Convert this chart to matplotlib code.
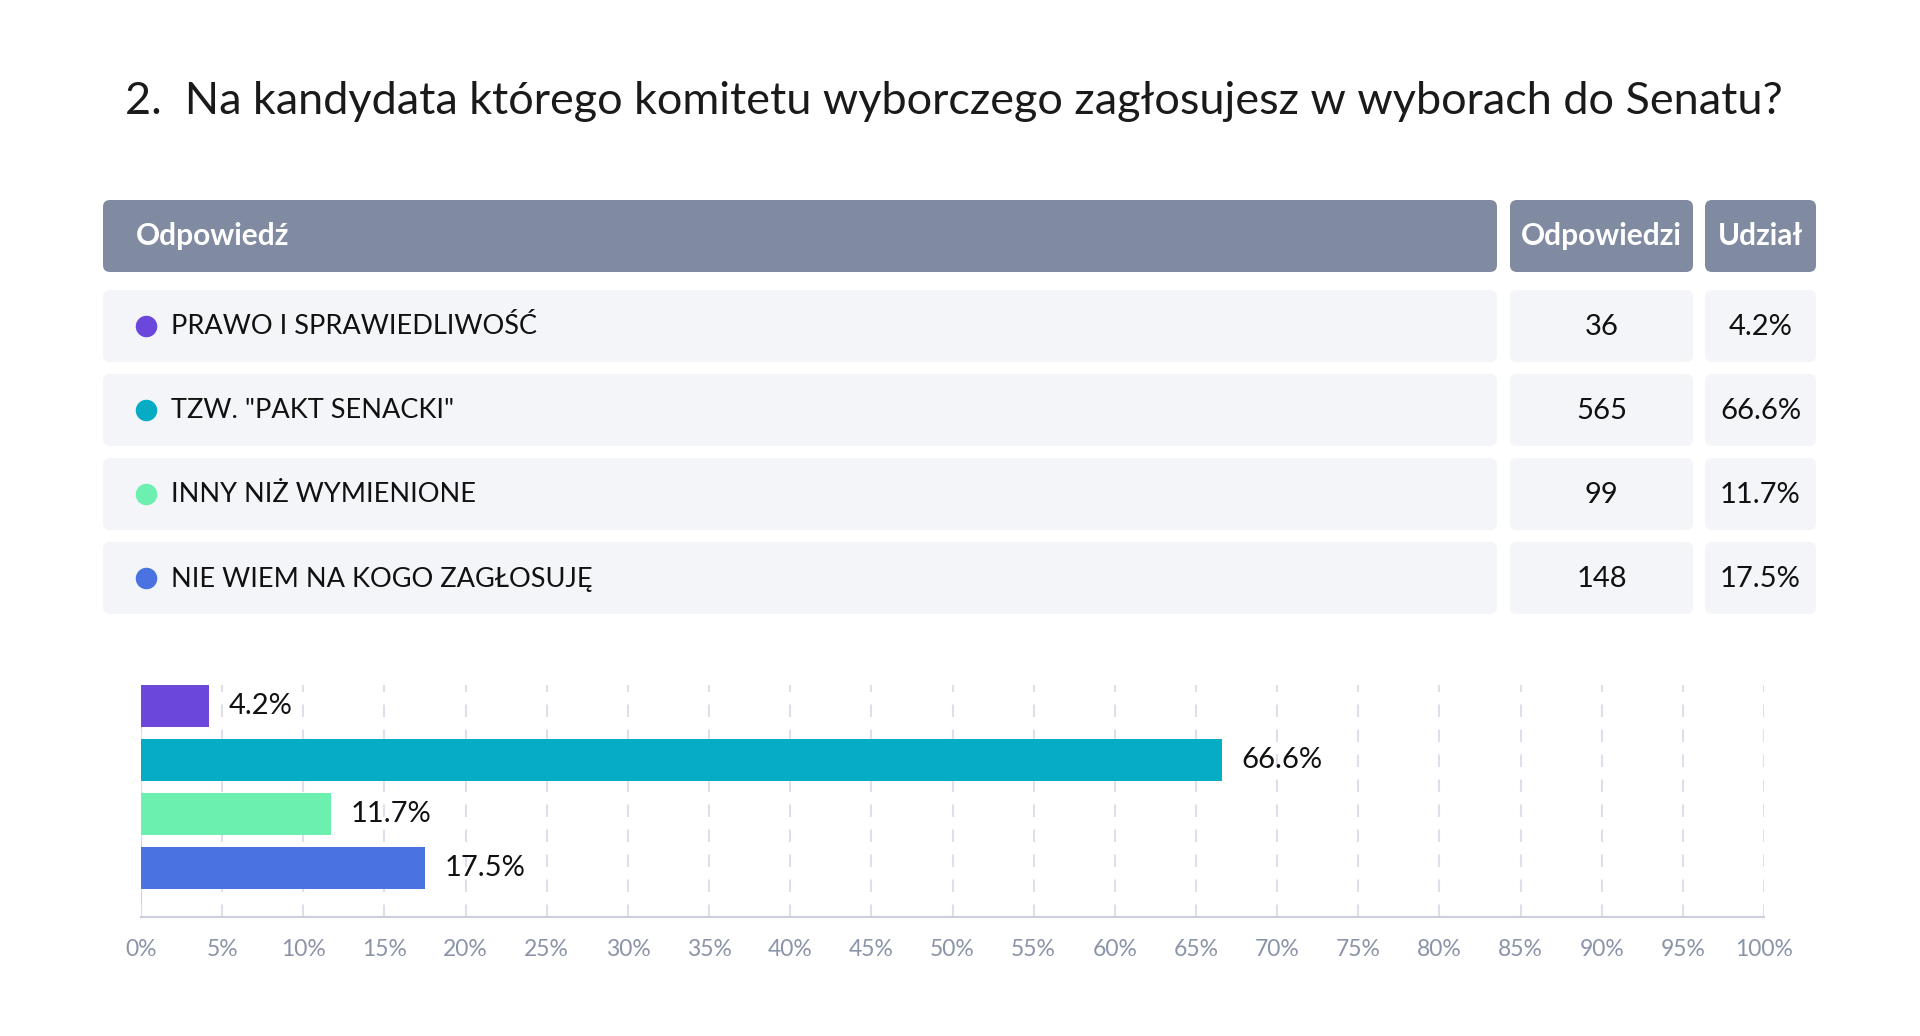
import matplotlib
matplotlib.use("Agg")
import matplotlib.pyplot as plt
from matplotlib.patches import FancyBboxPatch
from matplotlib.ticker import FixedLocator

plt.rcParams['font.family'] = ['Lato', 'DejaVu Sans']

title = "2.  Na kandydata którego komitetu wyborczego zagłosujesz w wyborach do Senatu?"
headers = ["Odpowiedź", "Odpowiedzi", "Udział"]
categories = ["PRAWO I SPRAWIEDLIWOŚĆ", 'TZW. "PAKT SENACKI"', "INNY NIŻ WYMIENIONE", "NIE WIEM NA KOGO ZAGŁOSUJĘ"]
counts = [36, 565, 99, 148]
shares = [4.2, 66.6, 11.7, 17.5]
colors = ["#6c47dc", "#06abc4", "#6cf0b0", "#4a72e0"]
ticks = list(range(0, 101, 5))

W, H = 1920, 1036
fig = plt.figure(figsize=(W / 100, H / 100), dpi=100)
fig.patch.set_facecolor("white")

# overlay axes in pixel coords
ov = fig.add_axes([0, 0, 1, 1])
ov.set_xlim(0, W)
ov.set_ylim(H, 0)
ov.axis("off")

ov.text(125, 102, title, fontsize=32.4, color="#1a1a1a", va="center", ha="left")

header_col = "#808aa0"
row_col = "#f4f5f9"
cols = [(103, 1497), (1510, 1693), (1705, 1816)]


def rbox(x0, x1, y0, y1, color):
    p = FancyBboxPatch((x0, y0), x1 - x0, y1 - y0,
                       boxstyle="round,pad=0,rounding_size=7",
                       facecolor=color, edgecolor="none", mutation_aspect=1)
    ov.add_patch(p)


# header
hy0, hy1 = 200, 272
for (x0, x1) in cols:
    rbox(x0, x1, hy0, hy1, header_col)
hyc = (hy0 + hy1) / 2
ov.text(136, hyc, headers[0], fontsize=21.5, fontweight="bold", color="white", va="center", ha="left")
ov.text((cols[1][0] + cols[1][1]) / 2, hyc, headers[1], fontsize=21.5, fontweight="bold", color="white", va="center", ha="center")
ov.text((cols[2][0] + cols[2][1]) / 2, hyc, headers[2], fontsize=21.5, fontweight="bold", color="white", va="center", ha="center")

# rows
for i, (cat, n, s, c) in enumerate(zip(categories, counts, shares, colors)):
    y0 = 290 + i * 84
    y1 = y0 + 72
    yc = (y0 + y1) / 2
    for (x0, x1) in cols:
        rbox(x0, x1, y0, y1, row_col)
    ov.scatter([146], [yc], s=210, color=c, zorder=3)
    ov.text(171, yc + 1, cat, fontsize=19.5, color="#111111", va="center", ha="left")
    ov.text((cols[1][0] + cols[1][1]) / 2, yc + 1, str(n), fontsize=21, color="#111111", va="center", ha="center")
    ov.text((cols[2][0] + cols[2][1]) / 2, yc + 1, f"{s}%", fontsize=21, color="#111111", va="center", ha="center")

# bar chart
ax_l, ax_r, ax_t, ax_b = 141, 1764, 685, 917
ax = fig.add_axes([ax_l / W, (H - ax_b) / H, (ax_r - ax_l) / W, (ax_b - ax_t) / H])
ypos = list(range(len(shares)))
ax.barh(ypos, shares, height=0.78, color=colors, zorder=3)
ax.set_xlim(0, 100)
ax.set_ylim(3.907, -0.389)
ax.xaxis.set_major_locator(FixedLocator(ticks))
ax.set_xticklabels([f"{t}%" for t in ticks])
ax.tick_params(axis="x", length=0, pad=16, labelsize=16.5, labelcolor="#8a93a8")
ax.set_yticks([])
for sp in ["top", "right", "left"]:
    ax.spines[sp].set_visible(False)
ax.spines["bottom"].set_color("#ccd0de")
ax.spines["bottom"].set_linewidth(1.5)
ax.grid(axis="x", color="#dde0ea", linestyle=(0, (6, 6)), linewidth=1.5, zorder=0)
ax.axvline(0, color="#ccd0de", linewidth=1.5, zorder=1)
for y, s in zip(ypos, shares):
    ax.text(s + 1.2, y, f"{s}%", fontsize=21, color="#111111", va="center", ha="left")

fig.savefig("out.png", dpi=100, facecolor="white")
